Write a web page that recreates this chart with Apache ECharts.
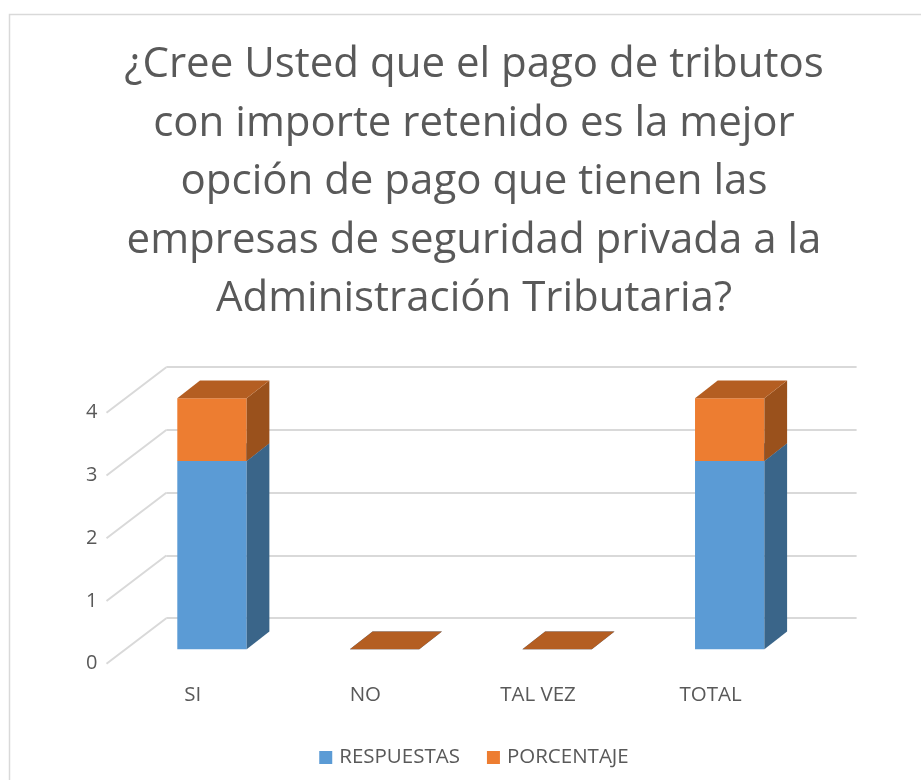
<!DOCTYPE html>
<html>
<head>
<meta charset="utf-8">
<script src="https://cdn.jsdelivr.net/npm/echarts@6/dist/echarts.min.js"></script>
<style>
  html, body { margin: 0; padding: 0; overflow: hidden; background: #fff; }
  #chart { width: 948px; height: 780px; }
</style>
</head>
<body>
<div id="chart"></div>
<script>
const categories = ['SI', 'NO', 'TAL VEZ', 'TOTAL']
const respuestas = [3, 0, 0, 3]
const porcentaje = [1, 0, 0, 1]
const yTicks = [0, 1, 2, 3, 4]

const font = 'Open Sans'
const textColor = '#595959'

// front plane of the bars
const front = { left: 125.7, top: 398.3, width: 690.3, height: 251 }
// back wall is pushed back by this offset, axis labels sit in front of the bars
const backOff = [40.6, -31.1]
const floorOff = [-19.2, 14.4]
// depth of a bar
const barDepth = [22.7, -17.7]

function shifted (off) {
  return { left: front.left + off[0], top: front.top + off[1], width: front.width, height: front.height }
}

// stacked bars: [index, base, top]
const blueData = respuestas.map((v, i) => [i, 0, v])
const orangeData = porcentaje.map((v, i) => [i, respuestas[i], respuestas[i] + v])

function makeBar (frontColor, sideColor, topColor) {
  return function (params, api) {
    const i = api.value(0)
    const pBase = api.coord([i, api.value(1)])
    const pTop = api.coord([i, api.value(2)])
    const w = api.size([1, 0])[0] * 0.402
    const x0 = pTop[0] - w / 2
    const x1 = pTop[0] + w / 2
    const yb = pBase[1]
    const yt = pTop[1]
    const dx = barDepth[0]
    const dy = barDepth[1]
    return {
      type: 'group',
      children: [
        {
          type: 'rect',
          shape: { x: x0, y: yt, width: w, height: yb - yt },
          style: { fill: frontColor }
        },
        {
          type: 'polygon',
          shape: { points: [[x1, yb], [x1, yt], [x1 + dx, yt + dy], [x1 + dx, yb + dy]] },
          style: { fill: sideColor }
        },
        {
          type: 'polygon',
          shape: { points: [[x0, yt], [x1, yt], [x1 + dx, yt + dy], [x0 + dx, yt + dy]] },
          style: { fill: topColor }
        }
      ]
    }
  }
}

const chart = echarts.init(document.getElementById('chart'))

const yCommon = { type: 'value', min: 0, max: 4, interval: 1 }

chart.setOption({
  animation: false,
  title: {
    text: '¿Cree Usted que el pago de tributos\ncon importe retenido es la mejor\nopción de pago que tienen las\nempresas de seguridad privada a la\nAdministración Tributaria?',
    left: 'center',
    top: 36,
    padding: 0,
    textStyle: {
      fontFamily: font,
      fontSize: 42,
      fontWeight: 'normal',
      color: textColor,
      lineHeight: 58.5
    }
  },
  graphic: [
    {
      type: 'rect',
      shape: { x: 9.5, y: 14.5, width: 1000, height: 1000 },
      style: { fill: 'none', stroke: '#d9d9d9', lineWidth: 1.5 },
      z: -10
    }
  ],
  legend: {
    top: 741,
    left: 'center',
    itemWidth: 13,
    itemHeight: 13,
    itemGap: 27,
    icon: 'rect',
    textStyle: { fontFamily: font, fontSize: 20.5, color: textColor, lineHeight: 23, padding: [0, 0, 0, 2] },
    data: ['RESPUESTAS', 'PORCENTAJE']
  },
  grid: [
    front,
    shifted(backOff),
    shifted(floorOff)
  ],
  xAxis: [
    { type: 'category', gridIndex: 0, data: categories, show: false },
    { type: 'category', gridIndex: 1, data: categories, show: false },
    {
      type: 'category',
      gridIndex: 2,
      data: categories,
      axisLine: { show: false },
      axisTick: { show: false },
      axisLabel: { color: textColor, fontFamily: font, fontSize: 20.5, margin: 21 }
    }
  ],
  yAxis: [
    Object.assign({ gridIndex: 0, show: false }, yCommon),
    Object.assign({
      gridIndex: 1,
      axisLine: { show: false },
      axisTick: { show: false },
      axisLabel: { show: false },
      splitLine: { show: true, lineStyle: { color: '#d9d9d9', width: 2 } }
    }, yCommon),
    Object.assign({
      gridIndex: 2,
      axisLine: { show: false },
      axisTick: { show: false },
      splitLine: { show: false },
      axisLabel: { color: textColor, fontFamily: font, fontSize: 20, margin: 9 }
    }, yCommon)
  ],
  series: [
    {
      // side wall lines from the back wall to the front edge
      type: 'custom',
      xAxisIndex: 1,
      yAxisIndex: 1,
      silent: true,
      data: yTicks.map(v => [0, v]),
      renderItem: function (params, api) {
        const y = api.coord([0, api.value(1)])[1]
        const x = params.coordSys.x
        return {
          type: 'line',
          shape: { x1: x, y1: y, x2: x + floorOff[0] - backOff[0], y2: y + floorOff[1] - backOff[1] },
          style: { stroke: '#d9d9d9', lineWidth: 2 }
        }
      }
    },
    {
      name: 'RESPUESTAS',
      type: 'custom',
      xAxisIndex: 0,
      yAxisIndex: 0,
      itemStyle: { color: '#5b9bd5' },
      encode: { x: 0, y: [1, 2] },
      data: blueData,
      renderItem: makeBar('#5b9bd5', '#3a6589', '#3f70a0')
    },
    {
      name: 'PORCENTAJE',
      type: 'custom',
      xAxisIndex: 0,
      yAxisIndex: 0,
      itemStyle: { color: '#ed7d31' },
      encode: { x: 0, y: [1, 2] },
      data: orangeData,
      renderItem: makeBar('#ed7d31', '#9a511c', '#b45e22')
    }
  ]
})
</script>
</body>
</html>
